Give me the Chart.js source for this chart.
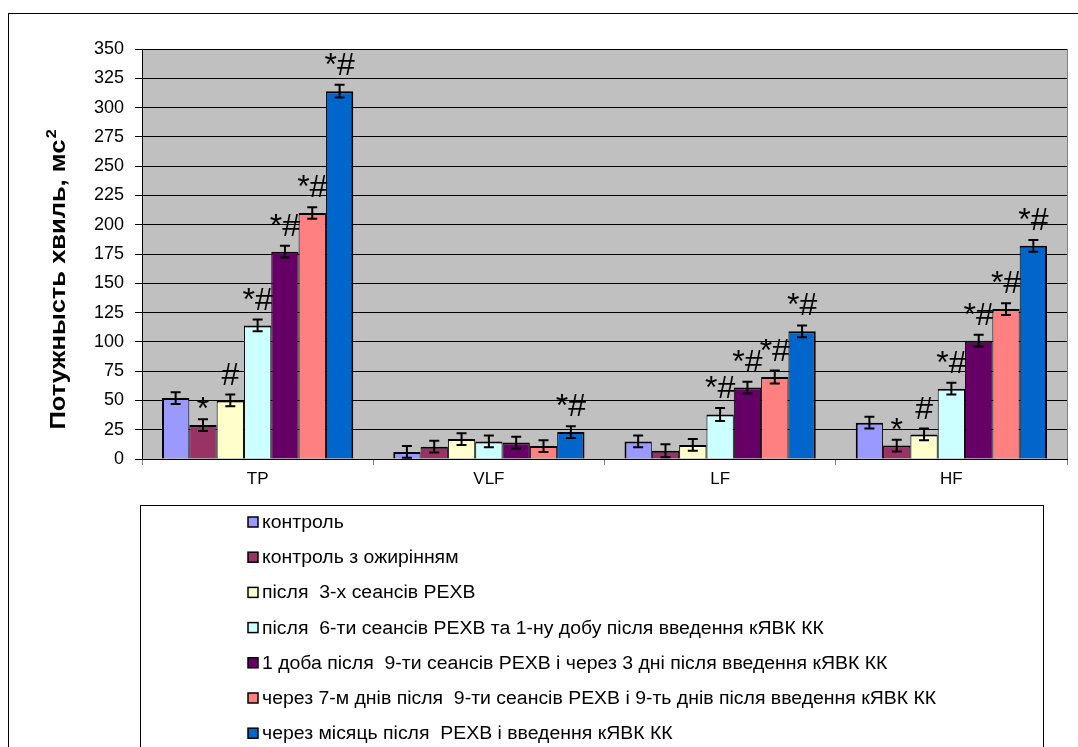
<!DOCTYPE html>
<html>
<head>
<meta charset="utf-8">
<script src="https://cdn.jsdelivr.net/npm/chart.js@4.4.1/dist/chart.umd.min.js"></script>
<style>
  html, body { margin: 0; padding: 0; background: #fff; }
  canvas { display: block; }
</style>
</head>
<body>
<canvas id="hrv" width="1078" height="747"></canvas>
<script>
// Spectral power of heart rhythm waves, ms²
const categories = ['TP', 'VLF', 'LF', 'HF'];
const yTicks = [0, 25, 50, 75, 100, 125, 150, 175, 200, 225, 250, 275, 300, 325, 350];

const seriesNames = [
  'контроль',
  'контроль з ожирінням',
  'після  3-х сеансів РЕХВ',
  'після  6-ти сеансів РЕХВ та 1-ну добу після введення кЯВК КК',
  '1 доба після  9-ти сеансів РЕХВ і через 3 дні після введення кЯВК КК',
  'через 7-м днів після  9-ти сеансів РЕХВ і 9-ть днів після введення кЯВК КК',
  'через місяць після  РЕХВ і введення кЯВК КК'
];
const seriesColors = ['#9999FF', '#993366', '#FFFFCC', '#CCFFFF', '#660066', '#FF8080', '#0066CC'];

// mean values per group
const control      = [52, 6, 15, 31];
const controlObese = [29, 10.5, 7, 11.5];
const after3       = [50, 17, 12, 21];
const after6       = [114, 15, 38, 60];
const day1After9   = [177, 14, 61, 101];
const day7After9   = [210, 11, 70, 128];
const monthAfter   = [314, 23, 109, 182];

// standard errors
const errControl      = [5, 5, 5, 5];
const errControlObese = [5, 5, 5.5, 5];
const errAfter3       = [5, 5, 5, 5];
const errAfter6       = [5, 5, 5.5, 5];
const errDay1After9   = [5, 5, 5, 5];
const errDay7After9   = [5, 5, 5.5, 5];
const errMonthAfter   = [5.5, 5, 5, 5];

// significance marks: * vs control, # vs control with obesity
const marksControl      = ['', '', '', ''];
const marksControlObese = ['*', '', '', '*'];
const marksAfter3       = ['#', '', '', '#'];
const marksAfter6       = ['*#', '', '*#', '*#'];
const marksDay1After9   = ['*#', '', '*#', '*#'];
const marksDay7After9   = ['*#', '', '*#', '*#'];
const marksMonthAfter   = ['*#', '*#', '*#', '*#'];

const seriesValues = [control, controlObese, after3, after6, day1After9, day7After9, monthAfter];
const seriesErrors = [errControl, errControlObese, errAfter3, errAfter6, errDay1After9, errDay7After9, errMonthAfter];
const seriesMarks  = [marksControl, marksControlObese, marksAfter3, marksAfter6, marksDay1After9, marksDay7After9, marksMonthAfter];

const yTitle = 'Потужнысть хвиль, мс';
const yTitleSup = '2';

const FONT = '"Liberation Sans", Arial, sans-serif';

const datasets = seriesValues.map((vals, i) => ({
  label: seriesNames[i],
  data: vals,
  errors: seriesErrors[i],
  marks: seriesMarks[i],
  backgroundColor: seriesColors[i],
  borderColor: '#000',
  borderWidth: {
    top: 2,
    left: i === 0 ? 2 : 1,
    right: i === seriesValues.length - 1 ? 2 : 1,
    bottom: 0
  },
  borderSkipped: 'bottom',
  inflateAmount: 0,
  categoryPercentage: 0.827,
  barPercentage: 1
}));

const chartFrame = {
  id: 'chartFrame',
  beforeDraw(chart) {
    const { ctx, chartArea: a } = chart;
    ctx.save();
    ctx.fillStyle = '#fff';
    ctx.fillRect(0, 0, chart.width, chart.height);
    ctx.strokeStyle = '#000';
    ctx.lineWidth = 1;
    ctx.strokeRect(8.5, 13.5, chart.width + 20, chart.height + 20);
    ctx.fillStyle = '#C0C0C0';
    ctx.fillRect(a.left, a.top, a.right - a.left, a.bottom - a.top);
    ctx.restore();
  },
  afterDraw(chart) {
    const { ctx, chartArea: a } = chart;
    ctx.save();
    // right edge of the plot area
    ctx.strokeStyle = '#808080';
    ctx.lineWidth = 1;
    ctx.beginPath();
    ctx.moveTo(a.right + 0.5, a.top);
    ctx.lineTo(a.right + 0.5, a.bottom);
    ctx.stroke();

    // rotated y-axis title with superscript
    ctx.fillStyle = '#000';
    ctx.translate(65, 280);
    ctx.rotate(-Math.PI / 2);
    ctx.scale(1.16, 1);
    ctx.font = 'bold 22px ' + FONT;
    const w1 = ctx.measureText(yTitle).width;
    ctx.font = 'bold 14px ' + FONT;
    const w2 = ctx.measureText(yTitleSup).width;
    const start = -(w1 + w2) / 2;
    ctx.textBaseline = 'alphabetic';
    ctx.textAlign = 'left';
    ctx.font = 'bold 22px ' + FONT;
    ctx.fillText(yTitle, start, 0);
    ctx.font = 'bold 14px ' + FONT;
    ctx.fillText(yTitleSup, start + w1 + 1, -9);
    ctx.restore();

    // legend box
    ctx.save();
    ctx.strokeStyle = '#000';
    ctx.lineWidth = 1;
    ctx.strokeRect(140.5, 505.5, 903, 300);
    chart.data.datasets.forEach((ds, i) => {
      const cy = 522 + i * 35.2;
      ctx.fillStyle = ds.backgroundColor;
      ctx.fillRect(248, cy - 5, 10, 10);
      ctx.strokeStyle = '#000';
      ctx.lineWidth = 1.5;
      ctx.strokeRect(248, cy - 5, 10, 10);
      ctx.save();
      ctx.translate(262, cy + 1);
      ctx.scale(1.08, 1);
      ctx.font = '18px ' + FONT;
      ctx.textBaseline = 'middle';
      ctx.textAlign = 'left';
      ctx.fillStyle = '#000';
      ctx.fillText(ds.label, 0, 0);
      ctx.restore();
    });
    ctx.restore();
  }
};

const errorBarsAndMarks = {
  id: 'errorBarsAndMarks',
  afterDatasetsDraw(chart) {
    const { ctx } = chart;
    const y = chart.scales.y;
    ctx.save();
    chart.data.datasets.forEach((ds, di) => {
      const meta = chart.getDatasetMeta(di);
      meta.data.forEach((bar, i) => {
        const v = ds.data[i];
        const e = ds.errors[i];
        const yHi = y.getPixelForValue(v + e);
        const yLo = y.getPixelForValue(Math.max(0, v - e));
        const x = bar.x;
        ctx.strokeStyle = '#000';
        ctx.lineWidth = 2;
        ctx.beginPath();
        ctx.moveTo(x, yHi); ctx.lineTo(x, yLo);
        ctx.moveTo(x - 5, yHi); ctx.lineTo(x + 5, yHi);
        ctx.moveTo(x - 5, yLo); ctx.lineTo(x + 5, yLo);
        ctx.stroke();

        const mark = ds.marks[i];
        if (mark) {
          ctx.font = '32px ' + FONT;
          ctx.fillStyle = '#000';
          ctx.textAlign = 'center';
          ctx.textBaseline = 'alphabetic';
          const m = ctx.measureText(mark);
          ctx.fillText(mark, x, yHi - 10 - m.actualBoundingBoxDescent);
        }
      });
    });
    ctx.restore();
  }
};

new Chart(document.getElementById('hrv'), {
  type: 'bar',
  data: { labels: categories, datasets },
  options: {
    responsive: false,
    animation: false,
    events: [],
    layout: { padding: { left: 0, top: 49, right: 11, bottom: 258 } },
    plugins: {
      legend: { display: false },
      tooltip: { enabled: false }
    },
    scales: {
      x: {
        afterFit(s) { s.height = 30; },
        grid: {
          offset: true,
          drawOnChartArea: false,
          drawTicks: true,
          tickLength: 6,
          tickColor: '#808080'
        },
        border: { color: '#000', width: 1 },
        ticks: {
          color: '#000',
          font: { family: FONT, size: 17 },
          padding: 4
        }
      },
      y: {
        min: 0,
        max: 350,
        afterFit(s) { s.width = 142; },
        afterBuildTicks(s) { s.ticks = yTicks.map(v => ({ value: v })); },
        grid: {
          color: '#000',
          lineWidth: 1,
          drawTicks: true,
          tickLength: 7,
          tickColor: '#000'
        },
        border: { color: '#000', width: 1 },
        ticks: {
          color: '#000',
          font: { family: FONT, size: 18 },
          padding: 11
        }
      }
    }
  },
  plugins: [chartFrame, errorBarsAndMarks]
});
</script>
</body>
</html>
